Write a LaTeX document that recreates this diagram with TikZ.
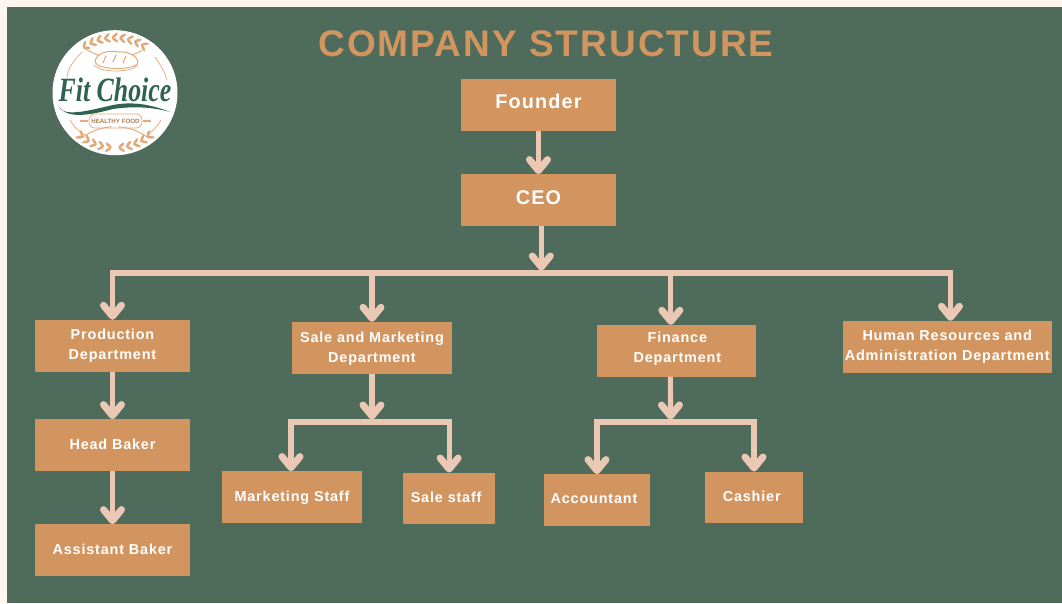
\documentclass[tikz,border=0pt]{standalone}
\usepackage{fontspec}
\setmainfont{Liberation Sans}
\newfontfamily\lblfont[LetterSpace=5.8]{Liberation Sans}
\newfontfamily\ttlfont[LetterSpace=5.5]{Liberation Sans}
\newfontfamily\logofont{Liberation Serif}
\usetikzlibrary{arrows.meta}
\definecolor{bgcream}{HTML}{FFF5EE}
\definecolor{bggreen}{HTML}{4F6B5B}
\definecolor{boxfill}{HTML}{D2955F}
\definecolor{linkcol}{HTML}{EBC8B4}
\definecolor{logogreen}{HTML}{2F6350}
\definecolor{logotan}{HTML}{E3A978}
\newcommand{\bigtxt}{\fontsize{19.8}{24}\selectfont}
\newcommand{\shifted}[2]{\kern#1\begin{tabular}{@{}c@{}}#2\end{tabular}\kern-#1}
\newcommand{\orgbox}[7][0pt]{%
  \node[orgbox,minimum width={(#5-#3)*1pt},minimum height={(#6-#4)*1pt}] (#2) at ({(#3+#5)/2},{(#4+#6)/2}) {\shifted{#1}{#7}};}
% first angle, second angle, last angle, direction of the grains along the arc (+90 or -90)
\newcommand{\wheat}[4]{%
  \draw[logotan,line width=.9pt,line cap=round] ({115+55*cos(#1)},{92.7-55*sin(#1)}) arc [start angle=-(#1),end angle=-(#3),radius=55pt];
  \foreach \a in {#1,#2,...,#3}{%
    \fill[logotan,shift={({115+55*cos(\a)},{92.7-55*sin(\a)})},rotate=\a+#4+38] (3.4,0) ellipse (3.9 and 1.4);
    \fill[logotan,shift={({115+55*cos(\a)},{92.7-55*sin(\a)})},rotate=\a+#4-38] (3.4,0) ellipse (3.9 and 1.4);
  }}
\tikzset{
  orgbox/.style={fill=boxfill,text=white,inner sep=0pt,font=\lblfont\bfseries\fontsize{14.4}{20}\selectfont},
  conn/.style={draw=linkcol,line width=5.2pt,-{Straight Barb[length=11pt,width=18pt,line width=7pt,round]}},
  logoline/.style={draw=logotan,line width=.7pt,line cap=round},
}
\begin{document}
\begin{tikzpicture}[x=1pt,y=-1pt]
\useasboundingbox (0,0) rectangle (1062,603);
\fill[bgcream] (0,0) rectangle (1062,603);
\fill[bggreen] (7,7) rectangle (1062,603);
% logo
\fill[white] (115,92.7) circle [radius=62.5pt];
\wheat{125}{117}{61}{-90}
\wheat{-126}{-118}{-94}{-90}
\wheat{-54}{-62}{-86}{90}
\draw[logoline] (155,57) .. controls (161,66) and (165,72) .. (167,80);
\draw[logoline] (82,52) .. controls (74,60) and (68,68) .. (67,77);
\draw[logoline] (70,120) .. controls (74,127) and (79,132) .. (85,135);
\draw[logoline] (161,120) .. controls (157,127) and (152,132) .. (147,135);
% bread
\draw[logotan,line width=1pt,fill=white] (95,62) .. controls (96,52) and (110,50) .. (118,52) .. controls (128,51) and (138,56) .. (138,63) .. controls (136,70) and (98,71) .. (95,62) -- cycle;
\draw[logoline] (94,65) .. controls (100,73) and (132,73) .. (138,65);
\draw[logotan,line width=1.1pt,line cap=round] (106,56) -- (103,63);
\draw[logotan,line width=1.1pt,line cap=round] (116,55) -- (113,62);
\draw[logotan,line width=1.1pt,line cap=round] (126,56) -- (123,63);
% script name
\node[text=logogreen,inner sep=0pt] (logoname) at (115,90) {\scalebox{.76}[1]{\logofont\bfseries\itshape\fontsize{34}{34}\selectfont Fit Choice}};
\fill[logogreen] (58,105) .. controls (62,118) and (87,111) .. (113,105) .. controls (133,101) and (153,105) .. (170,112) .. controls (153,107) and (133,106) .. (113,109) .. controls (90,115) and (66,120) .. (58,105) -- cycle;
\node[draw=logotan,line width=.7pt,rounded corners=6pt,minimum width=53pt,minimum height=14pt,inner sep=0pt,text=logotan!75!black] (logotag) at (115.5,121) {\bfseries\fontsize{6.2}{7}\selectfont HEALTHY FOOD};
\foreach \px in {82,86,145,149}{\fill[logotan] (\px,121) ellipse (2.2 and 1.2);}
% title
\node[text=boxfill,inner sep=0pt] (title) at (546,44) {\ttlfont\bfseries\fontsize{37}{40}\selectfont COMPANY STRUCTURE};
% boxes
\orgbox{founder}{461}{78.5}{616}{131}{\bigtxt Founder}
\orgbox{ceo}{461}{174.3}{616}{226}{\bigtxt CEO}
\orgbox{prod}{35}{320}{190}{371.7}{Production\\Department}
\orgbox{sale}{292}{322}{452}{374}{Sale and Marketing\\Department}
\orgbox[1pt]{fin}{596.7}{325}{756}{376.5}{Finance\\Department\\[4pt]}
\orgbox{hr}{842.7}{321}{1051.7}{372.7}{Human Resources and\\Administration Department}
\orgbox{head}{35}{419.3}{190}{471}{Head Baker}
\orgbox{asst}{35}{524.3}{190}{576}{Assistant Baker}
\orgbox{mkt}{222}{471.3}{362}{523}{Marketing Staff}
\orgbox[-3pt]{sstaff}{403.3}{472.7}{495}{524.3}{Sale staff}
\orgbox[-3pt]{acct}{544}{474.3}{650}{525.7}{Accountant\\[2pt]}
\orgbox[-2.3pt]{cash}{705.3}{471.7}{802.7}{523}{Cashier}
% junctions
\coordinate (j0) at (541.3,273);
\coordinate (j1) at (372,422);
\coordinate (j2) at (670.5,422);
% connectors
\draw[conn] (founder.south) -- (ceo.north);
\draw[conn] ([xshift=2.8pt]ceo.south) -- ([yshift=2.5pt]j0);
\draw[conn] (j0) -| (prod.north);
\draw[conn] (j0) -| (sale.north);
\draw[conn] (j0) -| ([xshift=-5.5pt]fin.north);
\draw[conn] (j0) -| ([xshift=3.3pt]hr.north);
\draw[conn] (prod.south) -- (head.north);
\draw[conn] (head.south) -- (asst.north);
\draw[conn] (sale.south) -- ([yshift=2.5pt]j1);
\draw[conn] (j1) -| ([xshift=-1pt]mkt.north);
\draw[conn] (j1) -| (sstaff.north);
\draw[conn] ([xshift=-6pt]fin.south) -- ([yshift=2.5pt]j2);
\draw[conn] (j2) -| (acct.north);
\draw[conn] (j2) -| (cash.north);
\end{tikzpicture}
\end{document}
